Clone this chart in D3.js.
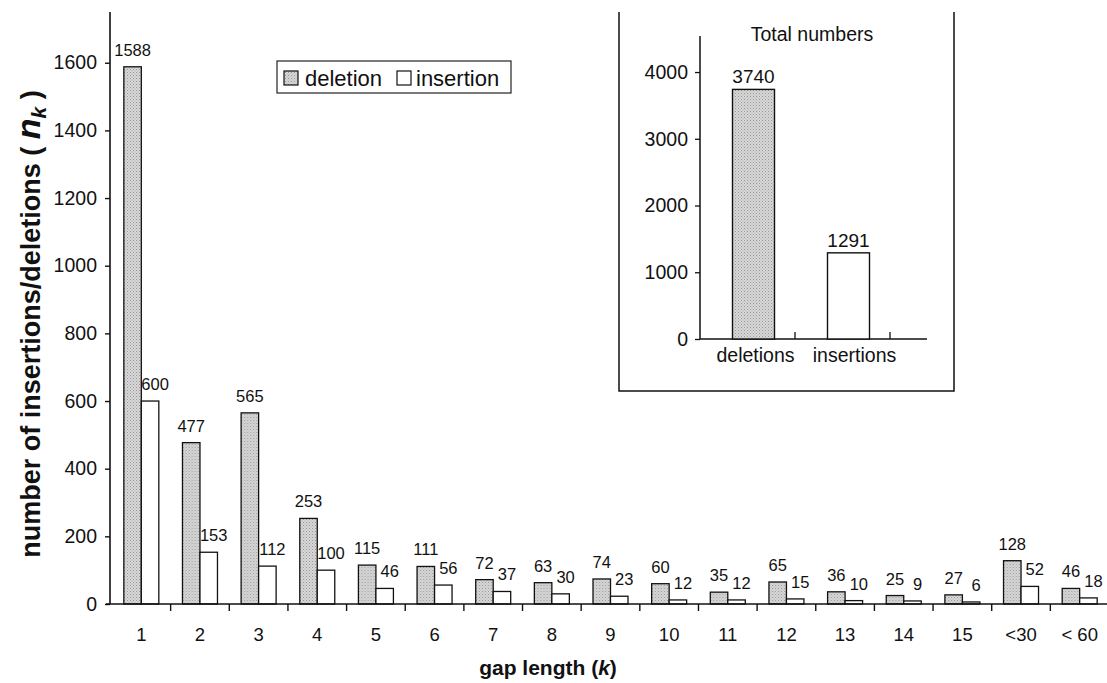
<!DOCTYPE html>
<html>
<head>
<meta charset="utf-8">
<script src="https://cdn.jsdelivr.net/npm/d3@7"></script>
<style>
  html, body { margin: 0; padding: 0; background: #fff; }
  svg { display: block; }
  text { font-family: "Liberation Sans", Arial, sans-serif; fill: #111; }
</style>
</head>
<body>
<svg id="chart" width="1107" height="683"></svg>
<script>
// ---- data ----
const categories = ["1","2","3","4","5","6","7","8","9","10","11","12","13","14","15","<30","< 60"];
const deletions  = [1588, 477, 565, 253, 115, 111, 72, 63, 74, 60, 35, 65, 36, 25, 27, 128, 46];
const insertions = [600, 153, 112, 100, 46, 56, 37, 30, 23, 12, 12, 15, 10, 9, 6, 52, 18];
const yTicks = [0, 200, 400, 600, 800, 1000, 1200, 1400, 1600];
const seriesNames = ["deletion", "insertion"];

const totalCategories = ["deletions", "insertions"];
const totalValues = [3740, 1291];
const totalTicks = [0, 1000, 2000, 3000, 4000];

// ---- setup ----
const svg = d3.select("#chart");
const defs = svg.append("defs");
const pat = defs.append("pattern").attr("id", "stipple")
  .attr("patternUnits", "userSpaceOnUse").attr("width", 3).attr("height", 3);
pat.append("rect").attr("width", 3).attr("height", 3).attr("fill", "#d8d8d8");
pat.append("rect").attr("x", 0).attr("y", 0).attr("width", 1).attr("height", 1).attr("fill", "#959595");
pat.append("rect").attr("x", 1.5).attr("y", 1.5).attr("width", 1).attr("height", 1).attr("fill", "#aaaaaa");

const fills = { deletion: "url(#stipple)", insertion: "#fff" };

// ---- main chart ----
const x = d3.scaleBand().domain(categories).range([112, 1109]).padding(0);
const xs = d3.scaleBand().domain(seriesNames).range([0, x.bandwidth()]).paddingInner(0).paddingOuter(0.676);
const y = d3.scaleLinear().domain([0, 1750]).range([604, 12]);

const rows = categories.map((c, i) => ({ cat: c, deletion: deletions[i], insertion: insertions[i] }));

// y axis
const yAxis = svg.append("g").attr("transform", "translate(110,0)")
  .call(d3.axisLeft(y).tickValues(yTicks).tickSize(5).tickPadding(8).tickFormat(d3.format("d")));
yAxis.select(".domain").attr("d", `M0,${y(1750)}V${y(0)}`).attr("stroke", "#111").attr("stroke-width", 1.6);
yAxis.selectAll(".tick line").attr("stroke", "#111").attr("stroke-width", 1.4);
yAxis.selectAll(".tick text").style("font-size", "19.5px").attr("fill", "#111");
yAxis.attr("font-family", null).attr("font-size", null);

// bars
const groups = svg.append("g").selectAll("g").data(rows).join("g")
  .attr("transform", d => `translate(${x(d.cat)},0)`);
groups.selectAll("rect").data(d => seriesNames.map(k => ({ key: k, value: d[k] }))).join("rect")
  .attr("x", d => xs(d.key))
  .attr("y", d => y(d.value))
  .attr("width", xs.bandwidth())
  .attr("height", d => y(0) - y(d.value))
  .attr("fill", d => fills[d.key])
  .attr("stroke", "#111").attr("stroke-width", 1.3);

// value labels
groups.selectAll("text").data(d => seriesNames.map(k => ({ key: k, value: d[k] }))).join("text")
  .attr("x", d => xs(d.key) + xs.bandwidth() / 2 + (d.key === "insertion" ? 5 : 0))
  .attr("y", d => y(d.value) - 11)
  .attr("text-anchor", "middle")
  .style("font-size", "16.5px")
  .text(d => d.value);

// x axis
const xAxis = svg.append("g").attr("transform", `translate(0,${y(0)})`)
  .call(d3.axisBottom(x).tickSize(0).tickPadding(24));
xAxis.select(".domain").attr("d", `M106,0H1107`).attr("stroke", "#111").attr("stroke-width", 1.6);
xAxis.selectAll(".tick text").style("font-size", "18.5px").attr("fill", "#111");
xAxis.attr("font-family", null).attr("font-size", null);
// boundary tick marks between categories
svg.append("g").selectAll("line").data(categories.slice(1)).join("line")
  .attr("x1", d => x(d)).attr("x2", d => x(d))
  .attr("y1", y(0)).attr("y2", y(0) + 7)
  .attr("stroke", "#111").attr("stroke-width", 1.4);

// axis titles
const xt = svg.append("text").attr("x", 548).attr("y", 675).attr("text-anchor", "middle")
  .style("font-size", "21px").style("font-weight", "bold");
xt.append("tspan").text("gap length (");
xt.append("tspan").style("font-style", "italic").text("k");
xt.append("tspan").text(")");

const yt = svg.append("text").attr("transform", "translate(40,324) rotate(-90)")
  .attr("text-anchor", "middle").style("font-size", "27px").style("font-weight", "bold");
yt.append("tspan").text("number of insertions/deletions ( ");
yt.append("tspan").style("font-style", "italic").style("font-size", "34px").text("n");
yt.append("tspan").style("font-style", "italic").style("font-size", "21px").attr("dy", 6).text("k");
yt.append("tspan").attr("dy", -6).text(" )");

// legend
const lg = svg.append("g");
lg.append("rect").attr("x", 277).attr("y", 61).attr("width", 234).attr("height", 32)
  .attr("fill", "#fff").attr("stroke", "#333").attr("stroke-width", 1.3);
const legendX = { deletion: [284, 305], insertion: [397, 416] };
seriesNames.forEach(k => {
  lg.append("rect").attr("x", legendX[k][0]).attr("y", 71).attr("width", 14).attr("height", 14)
    .attr("fill", fills[k]).attr("stroke", "#111").attr("stroke-width", 1.2);
  lg.append("text").attr("x", legendX[k][1]).attr("y", 86).style("font-size", "22px").text(k);
});

// ---- inset ----
svg.append("path").attr("d", "M619,12V391H954V12").attr("fill", "none")
  .attr("stroke", "#111").attr("stroke-width", 1.5);

const ix = d3.scaleBand().domain(totalCategories).range([706, 896]).padding(0);
const iy = d3.scaleLinear().domain([0, 4540]).range([339, 36]);
const ibw = 42;

const iyAxis = svg.append("g").attr("transform", "translate(700,0)")
  .call(d3.axisLeft(iy).tickValues(totalTicks).tickSize(5).tickPadding(7).tickFormat(d3.format("d")));
iyAxis.select(".domain").attr("d", `M0,${iy(4540)}V${iy(0)}`).attr("stroke", "#111").attr("stroke-width", 1.5);
iyAxis.selectAll(".tick line").attr("stroke", "#111").attr("stroke-width", 1.3);
iyAxis.selectAll(".tick text").style("font-size", "19.5px").attr("fill", "#111");
iyAxis.attr("font-family", null).attr("font-size", null);

svg.append("line").attr("x1", 700).attr("x2", 927).attr("y1", iy(0)).attr("y2", iy(0))
  .attr("stroke", "#111").attr("stroke-width", 1.5);
svg.append("g").selectAll("line").data(totalCategories).join("line")
  .attr("x1", d => ix(d) + ix.bandwidth() - 6).attr("x2", d => ix(d) + ix.bandwidth() - 6)
  .attr("y1", iy(0)).attr("y2", iy(0) - 7)
  .attr("stroke", "#111").attr("stroke-width", 1.3);

const totals = totalCategories.map((c, i) => ({ cat: c, value: totalValues[i], key: seriesNames[i] }));
svg.append("g").selectAll("rect").data(totals).join("rect")
  .attr("x", d => ix(d.cat) + ix.bandwidth() / 2 - ibw / 2)
  .attr("y", d => iy(d.value))
  .attr("width", ibw)
  .attr("height", d => iy(0) - iy(d.value))
  .attr("fill", d => fills[d.key])
  .attr("stroke", "#111").attr("stroke-width", 1.4);
svg.append("g").selectAll("text").data(totals).join("text")
  .attr("x", d => ix(d.cat) + ix.bandwidth() / 2)
  .attr("y", d => iy(d.value) - 6)
  .attr("text-anchor", "middle").style("font-size", "19px")
  .text(d => d.value);
svg.append("g").selectAll("text").data(totalCategories).join("text")
  .attr("x", d => ix(d) + ix.bandwidth() / 2 + (d === "insertions" ? 6 : 2))
  .attr("y", 362)
  .attr("text-anchor", "middle").style("font-size", "19.5px")
  .text(d => d);
svg.append("text").attr("x", 812).attr("y", 41).attr("text-anchor", "middle")
  .style("font-size", "19.5px").text("Total numbers");
</script>
</body>
</html>
